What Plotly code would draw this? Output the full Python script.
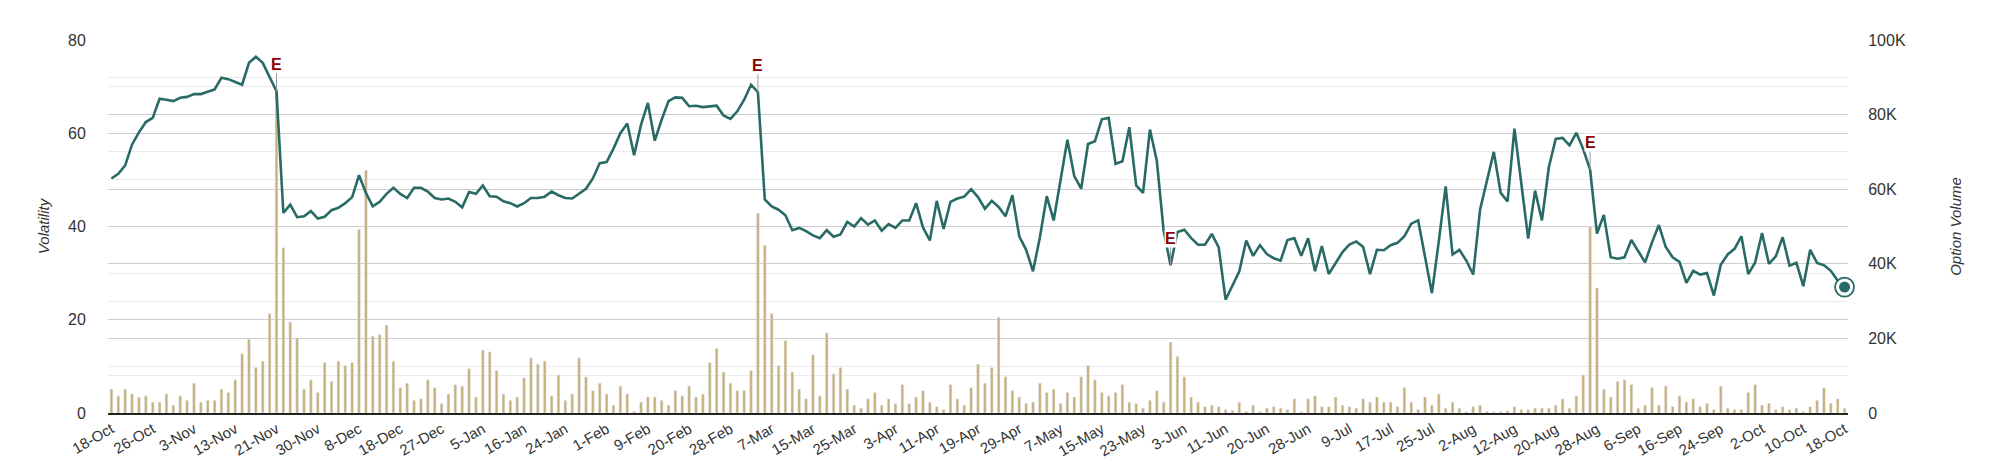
import pandas as pd
import plotly.graph_objects as go

# Trading days 18-Oct-2023 .. 18-Oct-2024 (US market holidays removed)
holidays = ["2023-11-23", "2023-12-25", "2024-01-01", "2024-01-15", "2024-02-19",
            "2024-03-29", "2024-05-27", "2024-06-19", "2024-07-04", "2024-09-02"]
days = [d for d in pd.bdate_range("2023-10-18", "2024-10-18") if d.strftime("%Y-%m-%d") not in holidays]
categories = [d.strftime("%Y-%m-%d") for d in days]

volatility = [
    50.3, 51.3, 53.1, 57.6, 60.2, 62.4, 63.3, 67.4, 67.2, 66.9,
    67.6, 67.8, 68.4, 68.4, 68.9, 69.4, 71.9, 71.6, 71.0, 70.4,
    75.1, 76.4, 75.1, 72.0, 69.0, 42.9, 44.7, 42.0, 42.2, 43.3,
    41.7, 42.1, 43.5, 44.0, 45.0, 46.3, 51.0, 47.2, 44.3, 45.3,
    47.0, 48.3, 47.0, 46.1, 48.3, 48.3, 47.5, 46.1, 45.8, 46.0,
    45.3, 44.1, 47.4, 47.0, 48.8, 46.5, 46.4, 45.4, 45.0, 44.3,
    45.0, 46.1, 46.1, 46.4, 47.5, 46.7, 46.1, 46.0, 47.0, 48.1,
    50.3, 53.6, 53.8, 56.7, 60.0, 62.1, 55.3, 61.8, 66.5, 58.4,
    62.9, 66.9, 67.7, 67.6, 65.8, 65.9, 65.6, 65.8, 65.9, 63.8,
    63.1, 64.7, 67.2, 70.4, 68.8, 45.8, 44.3, 43.6, 42.4, 39.2,
    39.7, 39.0, 38.1, 37.5, 39.2, 37.8, 38.3, 41.0, 40.0, 41.8,
    40.4, 41.3, 39.1, 40.5, 39.7, 41.3, 41.3, 45.0, 39.8, 37.0,
    45.5, 39.5, 45.3, 46.0, 46.4, 48.0, 46.3, 43.8, 45.5, 44.2,
    42.2, 46.7, 37.9, 35.0, 30.4, 37.7, 46.5, 41.3, 49.7, 58.6,
    50.8, 48.1, 57.7, 58.3, 63.0, 63.3, 53.4, 54.0, 61.3, 48.8,
    47.2, 60.8, 54.1, 39.0, 31.7, 38.8, 39.3, 37.5, 36.1, 36.1,
    38.4, 35.5, 24.3, 27.5, 30.4, 37.0, 33.7, 36.0, 34.1, 33.2,
    32.7, 37.1, 37.5, 33.7, 37.5, 30.4, 35.8, 29.8, 32.2, 34.5,
    36.1, 36.8, 35.6, 29.8, 35.0, 34.9, 36.0, 36.5, 37.9, 40.6,
    41.3, 33.6, 25.7, 36.8, 48.6, 34.0, 35.0, 32.7, 29.7, 43.6,
    50.1, 56.0, 47.2, 45.4, 61.0, 49.0, 37.4, 47.7, 41.3, 52.7,
    58.8, 59.0, 57.4, 60.1, 56.6, 52.2, 38.5, 42.5, 33.4, 33.1,
    33.4, 37.1, 34.7, 32.3, 36.6, 40.3, 35.6, 33.4, 32.4, 27.9,
    30.5, 29.7, 30.0, 25.2, 31.8, 34.0, 35.2, 37.9, 29.8, 32.3,
    38.6, 32.0, 33.6, 37.7, 31.6, 32.2, 27.2, 35.0, 32.2, 31.7,
    30.5, 28.4, 27.0,
]

option_volume_k = [
    6.4, 4.6, 6.4, 5.1, 4.2, 4.6, 2.9, 2.9, 5.1, 2.1,
    4.6, 3.4, 8.0, 2.9, 3.4, 3.4, 6.4, 5.5, 8.9, 15.9,
    19.8, 12.2, 13.9, 26.6, 87.0, 44.3, 24.4, 20.1, 6.4, 8.9,
    5.5, 13.5, 8.5, 13.9, 12.7, 13.5, 49.2, 65.1, 20.6, 21.0,
    23.6, 13.9, 6.8, 8.0, 3.4, 3.8, 8.9, 6.8, 2.5, 5.1,
    7.6, 7.2, 11.9, 4.3, 16.9, 16.4, 11.4, 5.1, 3.4, 4.3,
    9.4, 14.8, 13.1, 13.9, 4.6, 10.2, 3.4, 5.1, 14.8, 9.7,
    6.0, 8.0, 5.1, 2.1, 7.2, 5.1, 0.4, 2.9, 4.3, 4.3,
    3.4, 2.1, 6.0, 4.6, 7.2, 4.3, 5.1, 13.5, 17.3, 11.0,
    8.0, 6.0, 6.0, 11.4, 53.6, 45.0, 26.6, 12.7, 19.4, 11.0,
    6.4, 3.8, 15.6, 4.6, 21.5, 10.5, 12.2, 6.4, 2.1, 1.3,
    3.8, 5.5, 2.1, 3.8, 2.5, 7.6, 2.5, 4.3, 6.0, 2.9,
    1.7, 0.9, 7.6, 3.8, 2.1, 6.8, 13.1, 8.0, 12.2, 25.7,
    9.7, 6.0, 4.3, 2.6, 2.9, 8.0, 5.5, 6.4, 2.6, 5.5,
    4.3, 9.7, 12.7, 8.9, 5.5, 4.6, 5.5, 7.6, 2.9, 2.5,
    1.3, 3.4, 6.0, 2.9, 19.0, 15.2, 9.7, 4.3, 2.9, 1.7,
    2.1, 1.7, 0.9, 0.7, 2.9, 0.4, 2.1, 0.4, 1.3, 1.7,
    1.3, 0.9, 3.8, 0.4, 3.8, 4.6, 1.7, 1.7, 4.3, 2.1,
    1.7, 1.3, 3.8, 2.9, 4.3, 2.9, 2.9, 1.7, 6.8, 2.9,
    0.9, 4.3, 2.1, 5.1, 1.3, 2.9, 1.3, 0.3, 1.7, 2.1,
    0.4, 0.3, 0.4, 0.6, 1.7, 0.9, 0.9, 1.3, 1.3, 1.3,
    2.1, 3.8, 1.3, 4.6, 10.2, 49.9, 33.5, 6.4, 4.3, 8.5,
    8.9, 7.6, 1.3, 2.1, 6.8, 2.1, 7.2, 1.7, 4.6, 2.9,
    3.8, 1.7, 2.6, 0.9, 7.2, 1.3, 0.9, 0.9, 5.5, 7.6,
    2.1, 2.6, 0.9, 1.7, 0.9, 1.3, 0.4, 1.7, 3.4, 6.8,
    2.6, 3.8, 1.3,
]
option_volume = [v * 1000 for v in option_volume_k]

earnings_idx = [24, 94, 154, 215]

n = min(len(categories), len(volatility), len(option_volume))
categories = categories[:n]
days = days[:n]
volatility = volatility[:n]
option_volume = option_volume[:n]

tick_vals = categories[::6]
tick_text = [f"{d.day}-{d.strftime('%b')}" for d in days[::6]]

vol_tickvals = [0, 20000, 40000, 60000, 80000, 100000]
vol_ticktext = ["0", "20K", "40K", "60K", "80K", "100K"]

LINE = "#286b66"
BAR = "#c8b07c"
MAJ = "#cdcdcd"
MIN = "#ebebeb"
FONT = "Liberation Sans, Arial, sans-serif"

fig = go.Figure()
fig.add_trace(go.Bar(x=categories, y=option_volume, marker_color=BAR, width=0.4,
                     yaxis="y", hoverinfo="skip"))
fig.add_trace(go.Scatter(x=categories, y=volatility, mode="lines",
                         line=dict(color=LINE, width=2.6), yaxis="y2"))
fig.add_trace(go.Scatter(x=[categories[-1]], y=[volatility[-1]], mode="markers",
                         marker=dict(size=19, color="white", line=dict(color=LINE, width=1.8)),
                         yaxis="y2", cliponaxis=False))
fig.add_trace(go.Scatter(x=[categories[-1]], y=[volatility[-1]], mode="markers",
                         marker=dict(size=11, color=LINE), yaxis="y2", cliponaxis=False))

for i in earnings_idx:
    fig.add_annotation(x=categories[i], y=volatility[i], xref="x", yref="y2",
                       text="<b>E</b>", showarrow=True, arrowhead=0, arrowwidth=1,
                       arrowcolor="#9a9a9a", ax=0, ay=-27, standoff=0,
                       font=dict(color="#8b0000", size=16, family=FONT),
                       bgcolor="white", borderpad=0)

fig.update_layout(
    width=2000, height=469,
    margin=dict(l=100, r=160, t=32, b=64),
    plot_bgcolor="white", paper_bgcolor="white",
    showlegend=False,
    font=dict(family=FONT, color="#333333", size=15),
    xaxis=dict(type="category", tickvals=tick_vals, ticktext=tick_text,
               range=[-0.5, n - 0.5], autorange=False,
               tickangle=-30, showgrid=False, showline=True, linecolor="#222222",
               linewidth=1.5, ticks="", tickfont=dict(size=15, color="#333333")),
    yaxis=dict(side="right", range=[0, 100000], tickvals=vol_tickvals, ticktext=vol_ticktext,
               showgrid=True, gridcolor=MAJ, gridwidth=1, zeroline=False,
               minor=dict(dtick=10000, showgrid=True, gridcolor=MIN),
               ticks="outside", ticklen=16, tickcolor="rgba(0,0,0,0)",
               tickfont=dict(size=16, color="#333333"),
               title=dict(text="Option Volume", standoff=45,
                          font=dict(size=15, style="italic", color="#333333"))),
    yaxis2=dict(side="left", overlaying="y", range=[0, 80], dtick=20,
                showgrid=True, gridcolor=MAJ, gridwidth=1, zeroline=False,
                minor=dict(dtick=10, showgrid=True, gridcolor=MIN),
                ticks="outside", ticklen=18, tickcolor="rgba(0,0,0,0)",
                tickfont=dict(size=16, color="#333333"),
                title=dict(text="Volatility", standoff=14,
                           font=dict(size=15, style="italic", color="#333333"))),
)

fig.write_html("out.html")
